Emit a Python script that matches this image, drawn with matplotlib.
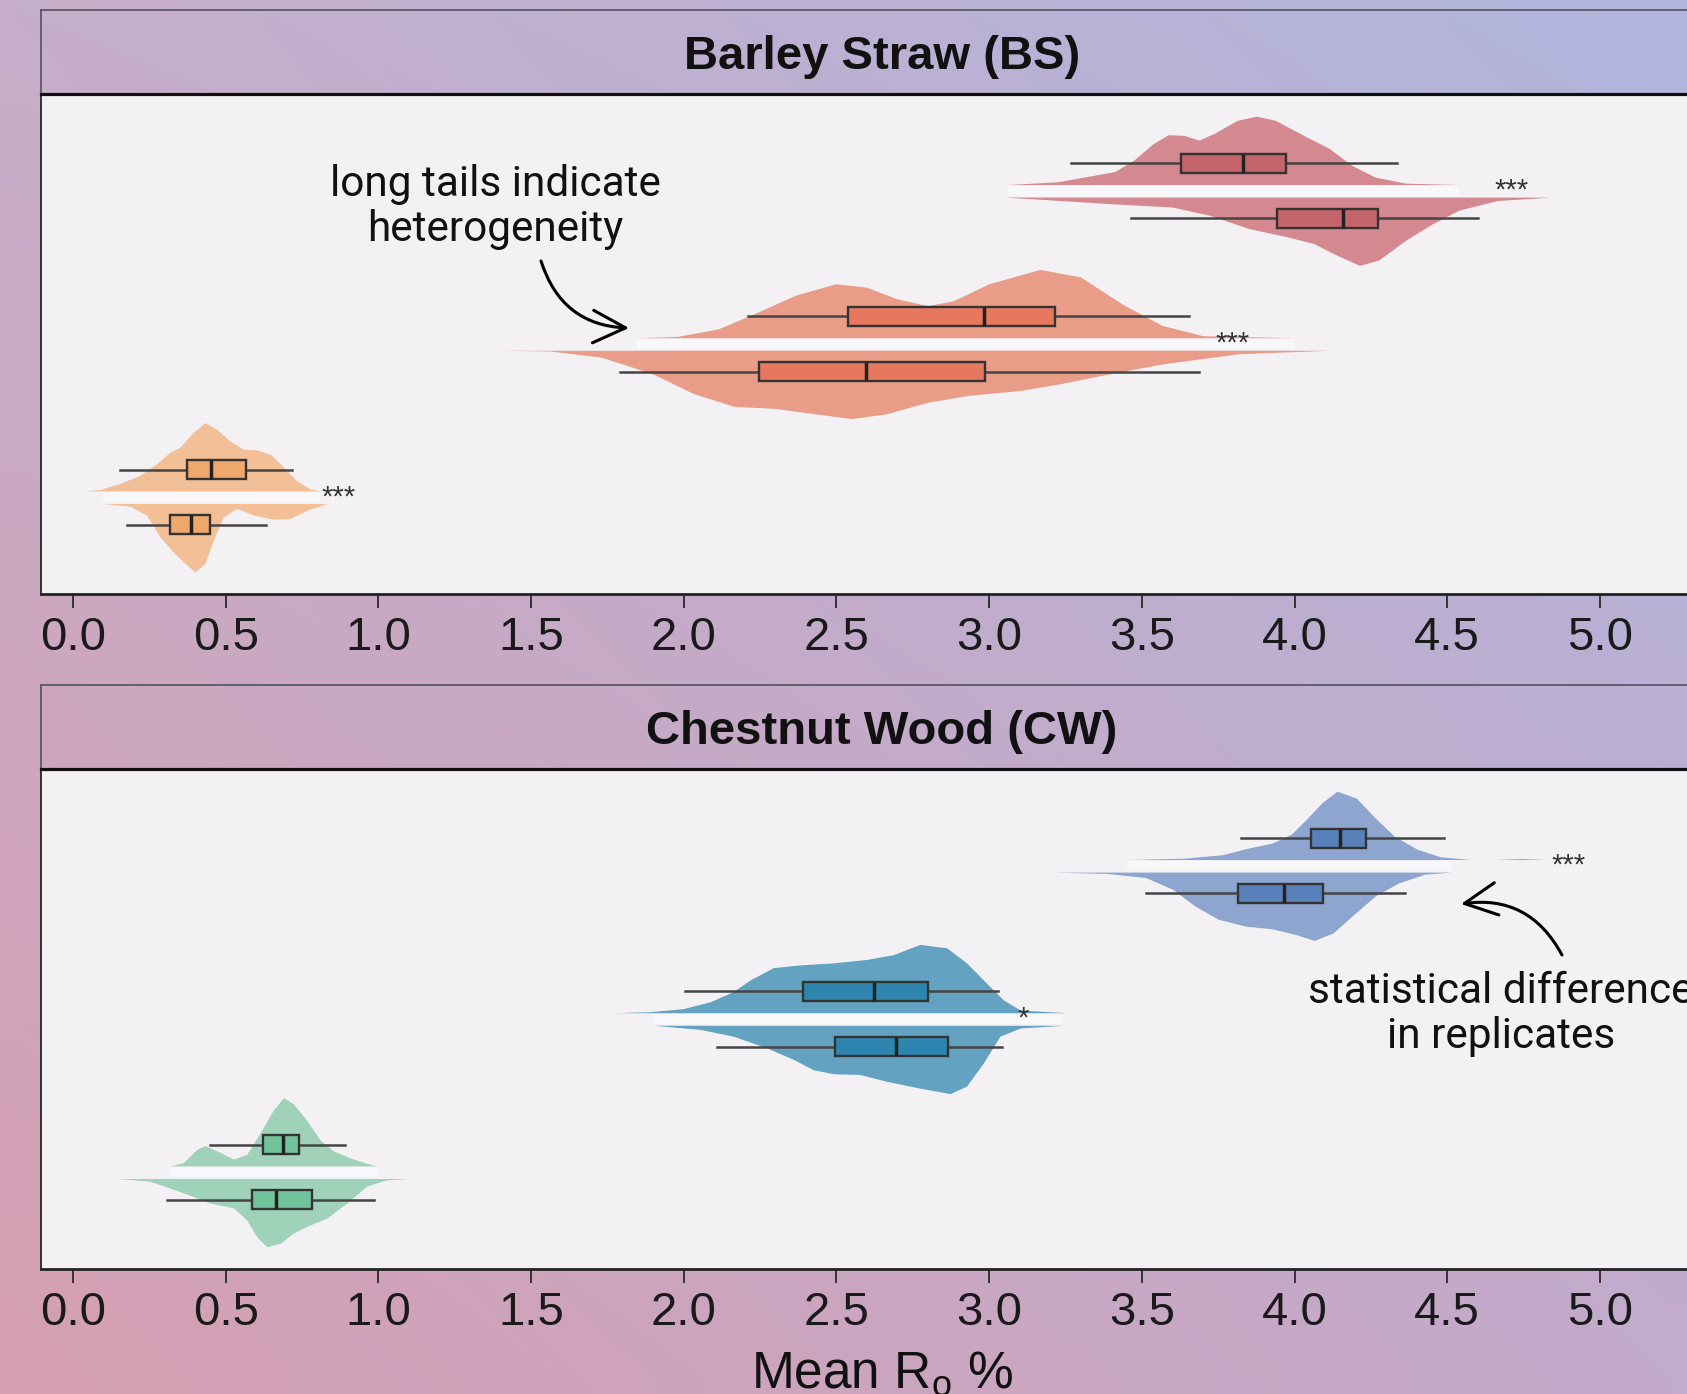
import numpy as np
import matplotlib
matplotlib.use('Agg')
import matplotlib.pyplot as plt
from matplotlib.patches import FancyArrowPatch

# ---- data (x in Mean Ro %, d = relative half-violin width) ----
# Barley Straw: groups from bottom to top (orange, salmon, red)
bs1_up_x = [0.034, 0.088, 0.154, 0.219, 0.274, 0.318, 0.350, 0.394, 0.432, 0.471, 0.514, 0.558, 0.601, 0.645, 0.689, 0.732, 0.776, 0.809]
bs1_up_d = [0, 0.02, 0.11, 0.23, 0.40, 0.57, 0.64, 0.86, 1.0, 0.90, 0.73, 0.61, 0.60, 0.54, 0.35, 0.15, 0.03, 0]
bs1_lo_x = [0.099, 0.187, 0.241, 0.285, 0.328, 0.372, 0.399, 0.432, 0.459, 0.492, 0.536, 0.590, 0.656, 0.711, 0.765, 0.831]
bs1_lo_d = [0, 0.04, 0.17, 0.49, 0.71, 0.90, 1.0, 0.88, 0.54, 0.20, 0.07, 0.17, 0.23, 0.22, 0.10, 0]

bs2_up_x = [1.846, 1.980, 2.113, 2.230, 2.364, 2.497, 2.598, 2.698, 2.798, 2.882, 2.999, 3.166, 3.299, 3.433, 3.566, 3.700, 4.001]
bs2_up_d = [0, 0.02, 0.13, 0.35, 0.62, 0.79, 0.74, 0.57, 0.47, 0.54, 0.79, 1.0, 0.89, 0.50, 0.18, 0.03, 0]
bs2_lo_x = [1.390, 1.562, 1.729, 1.896, 2.030, 2.163, 2.297, 2.431, 2.548, 2.664, 2.798, 2.932, 3.099, 3.232, 3.399, 3.566, 3.817, 4.118]
bs2_lo_d = [0, 0.01, 0.10, 0.34, 0.63, 0.82, 0.85, 0.93, 1.0, 0.93, 0.76, 0.66, 0.59, 0.49, 0.34, 0.20, 0.05, 0]

bs3_up_x = [3.060, 3.223, 3.411, 3.474, 3.537, 3.587, 3.637, 3.687, 3.737, 3.812, 3.875, 3.937, 4.038, 4.113, 4.188, 4.263, 4.364, 4.539]
bs3_up_d = [0, 0.04, 0.19, 0.36, 0.60, 0.73, 0.72, 0.65, 0.75, 0.94, 1.0, 0.94, 0.70, 0.53, 0.28, 0.11, 0.02, 0]
bs3_lo_x = [3.048, 3.161, 3.411, 3.599, 3.725, 3.850, 3.975, 4.063, 4.138, 4.213, 4.276, 4.364, 4.452, 4.539, 4.664, 4.840]
bs3_lo_d = [0, 0.03, 0.10, 0.145, 0.27, 0.46, 0.58, 0.68, 0.85, 1.0, 0.92, 0.63, 0.39, 0.19, 0.05, 0]

# Chestnut Wood: groups from bottom to top (green, teal, blue)
cw1_up_x = [0.318, 0.361, 0.405, 0.432, 0.471, 0.525, 0.569, 0.612, 0.656, 0.689, 0.721, 0.765, 0.809, 0.852, 0.918, 0.983, 0.994]
cw1_up_d = [0, 0.05, 0.24, 0.30, 0.22, 0.10, 0.17, 0.48, 0.82, 1.0, 0.91, 0.67, 0.38, 0.22, 0.10, 0.01, 0]
cw1_lo_x = [0.143, 0.252, 0.361, 0.449, 0.525, 0.569, 0.601, 0.634, 0.678, 0.721, 0.765, 0.831, 0.896, 0.962, 1.027, 1.103]
cw1_lo_d = [0, 0.04, 0.21, 0.36, 0.43, 0.61, 0.85, 1.0, 0.95, 0.80, 0.70, 0.58, 0.36, 0.11, 0.02, 0]

cw2_up_x = [1.769, 1.889, 1.998, 2.086, 2.162, 2.217, 2.293, 2.380, 2.490, 2.599, 2.686, 2.773, 2.861, 2.926, 2.992, 3.046, 3.101, 3.254]
cw2_up_d = [0, 0.015, 0.06, 0.16, 0.31, 0.48, 0.66, 0.70, 0.73, 0.78, 0.85, 1.0, 0.95, 0.73, 0.43, 0.19, 0.04, 0]
cw2_lo_x = [1.900, 2.053, 2.162, 2.271, 2.359, 2.424, 2.490, 2.577, 2.664, 2.773, 2.872, 2.926, 2.981, 3.035, 3.101, 3.243]
cw2_lo_d = [0, 0.06, 0.16, 0.33, 0.50, 0.65, 0.71, 0.72, 0.82, 0.92, 1.0, 0.89, 0.55, 0.16, 0.04, 0]

cw3_up_x = [3.450, 3.638, 3.763, 3.851, 3.926, 3.989, 4.039, 4.089, 4.139, 4.202, 4.264, 4.327, 4.402, 4.477, 4.578, 4.653, 4.740, 4.828]
cw3_up_d = [0, 0.02, 0.07, 0.17, 0.24, 0.37, 0.59, 0.83, 1.0, 0.90, 0.61, 0.34, 0.15, 0.04, 0, 0, 0.015, 0]
cw3_lo_x = [3.212, 3.387, 3.513, 3.600, 3.675, 3.750, 3.838, 3.926, 4.001, 4.064, 4.126, 4.189, 4.264, 4.340, 4.427, 4.515]
cw3_lo_d = [0, 0.02, 0.08, 0.25, 0.50, 0.69, 0.79, 0.83, 0.91, 1.0, 0.89, 0.64, 0.35, 0.16, 0.03, 0]

# box stats [whisker low, q1, median, q3, whisker high]
bs_box_up = [[0.154, 0.372, 0.451, 0.565, 0.716],
             [2.210, 2.539, 2.982, 3.216, 3.655],
             [3.267, 3.627, 3.831, 3.972, 4.336]]
bs_box_lo = [[0.176, 0.318, 0.386, 0.448, 0.632],
             [1.792, 2.247, 2.598, 2.985, 3.687],
             [3.465, 3.943, 4.159, 4.273, 4.602]]
cw_box_up = [[0.449, 0.621, 0.688, 0.741, 0.891],
             [2.004, 2.391, 2.624, 2.799, 3.028],
             [3.826, 4.054, 4.149, 4.233, 4.490]]
cw_box_lo = [[0.307, 0.585, 0.665, 0.784, 0.986],
             [2.110, 2.495, 2.695, 2.866, 3.041],
             [3.513, 3.816, 3.966, 4.093, 4.362]]

bs_sig = ['***', '***', '***']
bs_sig_x = [0.868, 3.796, 4.710]
cw_sig = ['', '*', '***']
cw_sig_x = [0.0, 3.110, 4.897]

bs_violin_col = ['#f3bf97', '#e99c87', '#d3898f']
bs_box_col = ['#f0a76c', '#e6785f', '#c6646b']
cw_violin_col = ['#a0d2b9', '#63a2c0', '#8ea6cf']
cw_box_col = ['#72c39b', '#2e86b0', '#5a80b9']

xticks = [0.0, 0.5, 1.0, 1.5, 2.0, 2.5, 3.0, 3.5, 4.0, 4.5, 5.0]

# ---- figure ----
plt.rcParams['font.family'] = ['Liberation Sans', 'DejaVu Sans']
plt.rcParams['mathtext.fontset'] = 'custom'
plt.rcParams['mathtext.rm'] = 'Liberation Sans'

W, H = 1687, 1394
fig = plt.figure(figsize=(W / 100, H / 100), dpi=100)

# gradient background
c_tl = np.array([198, 174, 202]) / 255
c_tr = np.array([177, 181, 221]) / 255
c_bl = np.array([213, 159, 178]) / 255
c_br = np.array([195, 171, 204]) / 255
u = np.linspace(0, 1, 60)
uu, vv = np.meshgrid(u, u)
grad = ((1 - uu)[..., None] * (1 - vv)[..., None] * c_tl + uu[..., None] * (1 - vv)[..., None] * c_tr
        + (1 - uu)[..., None] * vv[..., None] * c_bl + uu[..., None] * vv[..., None] * c_br)
bg = fig.add_axes([0, 0, 1, 1], zorder=-10)
bg.imshow(grad, aspect='auto', interpolation='bilinear', extent=[0, 1, 0, 1])
bg.axis('off')


def px_axes(x0, y0, x1, y1):
    return fig.add_axes([x0 / W, 1 - y1 / H, (x1 - x0) / W, (y1 - y0) / H])


GAP = 0.041
VH = 0.446
BOFF = 0.18


def draw_panel(top, title, halves, box_up, box_lo, vcols, bcols, sig, sig_x):
    hdr = px_axes(41, top, 1723, top + 84)
    hdr.set_facecolor('none')
    hdr.set_xticks([])
    hdr.set_yticks([])
    for s in ['right', 'bottom']:
        hdr.spines[s].set_visible(False)
    for s in ['top', 'left']:
        hdr.spines[s].set_color('#5c5868')
        hdr.spines[s].set_linewidth(1.3)
    hdr.text(0.5, 0.5, title, transform=hdr.transAxes, ha='center', va='center_baseline',
             fontsize=34, fontweight='bold', color='#111111')

    ax = px_axes(41, top + 84, 1723, top + 584)
    ax.set_facecolor('#f4f1f5')
    ys = [1, 2, 3]
    for i, (ux, ud, lx, ld) in enumerate(halves):
        g = ys[i]
        ux, ud, lx, ld = map(np.array, (ux, ud, lx, ld))
        ax.fill_between(ux, g + GAP, g + GAP + VH * ud, color=vcols[i], lw=0, zorder=1)
        ax.fill_between(lx, g - GAP - VH * ld, g - GAP, color=vcols[i], lw=0, zorder=1)
        # faint light band in the gap between the two halves
        ax.fill_between([max(ux[0], lx[0]), min(ux[-1], lx[-1])], g - GAP * 0.8, g + GAP * 0.8,
                        color='white', alpha=0.45, lw=0, zorder=1.5)
        if sig[i]:
            ax.text(sig_x[i], g, sig[i], ha='center', va='center', fontsize=21,
                    color='#333333', zorder=4)

    for stats_src, off in [(box_up, BOFF), (box_lo, -BOFF)]:
        stats = [dict(whislo=s[0], q1=s[1], med=s[2], q3=s[3], whishi=s[4]) for s in stats_src]
        res = ax.bxp(stats, positions=[g + off for g in ys], widths=0.127,
                     orientation='horizontal', showfliers=False, showcaps=False,
                     patch_artist=True, manage_ticks=False,
                     boxprops=dict(edgecolor='#333333', linewidth=1.7),
                     whiskerprops=dict(color='#454545', linewidth=1.8),
                     medianprops=dict(color='#222222', linewidth=2.5))
        for b, c in zip(res['boxes'], bcols):
            b.set_facecolor(c)
            b.set_zorder(3)
        for w in res['whiskers']:
            w.set_zorder(2.5)
        for m in res['medians']:
            m.set_zorder(3.5)

    ax.set_xlim(-0.105, 5.403)
    ax.set_ylim(0.368, 3.632)
    ax.set_yticks([])
    ax.set_xticks(xticks)
    ax.set_xticklabels([f'{t:.1f}' for t in xticks])
    ax.tick_params(axis='x', direction='out', length=10, width=1.4, color='#333333',
                   labelsize=34, labelcolor='#1a1a1a', pad=6)
    ax.spines['right'].set_visible(False)
    ax.spines['top'].set_color('#111111')
    ax.spines['top'].set_linewidth(2.3)
    ax.spines['left'].set_color('#333333')
    ax.spines['left'].set_linewidth(1.4)
    ax.spines['bottom'].set_color('#222222')
    ax.spines['bottom'].set_linewidth(2.0)
    return ax


bs_halves = [(bs1_up_x, bs1_up_d, bs1_lo_x, bs1_lo_d),
             (bs2_up_x, bs2_up_d, bs2_lo_x, bs2_lo_d),
             (bs3_up_x, bs3_up_d, bs3_lo_x, bs3_lo_d)]
cw_halves = [(cw1_up_x, cw1_up_d, cw1_lo_x, cw1_lo_d),
             (cw2_up_x, cw2_up_d, cw2_lo_x, cw2_lo_d),
             (cw3_up_x, cw3_up_d, cw3_lo_x, cw3_lo_d)]

draw_panel(10, 'Barley Straw (BS)', bs_halves, bs_box_up, bs_box_lo,
           bs_violin_col, bs_box_col, bs_sig, bs_sig_x)
draw_panel(685, 'Chestnut Wood (CW)', cw_halves, cw_box_up, cw_box_lo,
           cw_violin_col, cw_box_col, cw_sig, cw_sig_x)

# annotations
fig.text(495 / W, 1 - 207 / H, 'long tails indicate\nheterogeneity', ha='center', va='center',
         fontsize=30.5, family='Roboto', color='#111111', linespacing=1.1)
fig.text(1501 / W, 1 - 1014 / H, 'statistical difference\nin replicates', ha='center', va='center',
         fontsize=30.5, family='Roboto', color='#111111', linespacing=1.1)

arrow = dict(arrowstyle='->,head_length=0.9,head_width=0.45', connectionstyle='arc3,rad=0.35',
             lw=2.2, color='black', mutation_scale=26, shrinkA=0, shrinkB=0)
fig.add_artist(FancyArrowPatch((541, H - 261), (629, H - 328), transform=None, **arrow))
fig.add_artist(FancyArrowPatch((1562, H - 955), (1461, H - 904), transform=None, **arrow))

fig.text(882 / W, 1 - 1388 / H, 'Mean R$_\\mathregular{o}$ %', ha='center', va='baseline',
         fontsize=37, color='#111111')

fig.savefig('out.png', dpi=100)
